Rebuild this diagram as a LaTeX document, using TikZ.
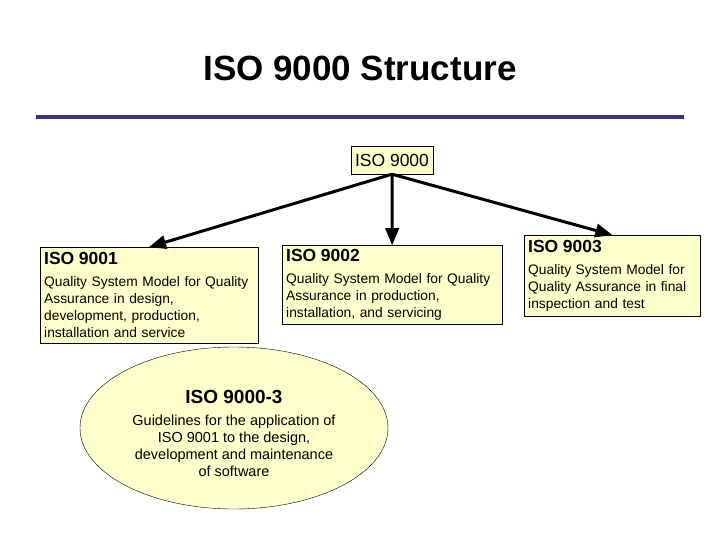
\documentclass[tikz,border=0pt]{standalone}
\usepackage{fontspec}
\setmainfont{Liberation Sans}
\usepackage{xcolor}
\usepackage{tikz}
\usetikzlibrary{shapes.geometric, arrows, positioning}
\definecolor{paleyellow}{HTML}{FFFFCC}
\definecolor{ruleblue}{HTML}{333388}
\tikzstyle{isobox}  = [rectangle, draw=black, fill=paleyellow, anchor=north west, align=left, inner sep=4pt, font=\fontsize{13.8}{17}\selectfont]
\tikzstyle{rootbox} = [rectangle, draw=black, fill=paleyellow, inner sep=4pt, minimum height=28pt, font=\fontsize{17.5}{19}\selectfont]
\tikzstyle{softell} = [ellipse, draw=black, fill=paleyellow, inner sep=0pt, minimum width=308pt, minimum height=162pt, align=center, font=\fontsize{14.5}{17}\selectfont]
\tikzstyle{arrow}   = [line width=3pt, ->, >=triangle 45]
\newcommand{\isohead}[1]{{\fontsize{17.5}{20}\selectfont\bfseries #1}\\[5pt]}

\begin{document}
\begin{tikzpicture}[x=1pt, y=-1pt]
    \useasboundingbox (0,0) rectangle (720,540);
    \node (title) at (360,68) {\fontsize{35}{40}\selectfont\bfseries ISO 9000 Structure};
    \draw [ruleblue, line width=4pt] (36,117) -- (684,117);

    \node (iso)   [rootbox] at (392,160) {ISO 9000};
    \node (iso1)  [isobox, text width=210pt, minimum height=96pt] at (40,247)
        {\isohead{ISO 9001}Quality System Model for Quality\\Assurance in design,\\development, production,\\installation and service};
    \node (iso2)  [isobox, text width=212pt, minimum height=79pt] at (282,245)
        {\isohead{ISO 9002}Quality System Model for Quality\\Assurance in production,\\installation, and servicing};
    \node (iso3)  [isobox, text width=168pt, minimum height=81pt] at (524,235)
        {\isohead{ISO 9003}Quality System Model for\\Quality Assurance in final\\inspection and test};
    \node (iso03) [softell] at (234,428)
        {\rule{0pt}{25pt}{\fontsize{19}{22}\selectfont\bfseries ISO 9000-3}\\[5pt]Guidelines for the application of\\ISO 9001 to the design,\\development and maintenance\\of software};

    \draw [arrow] (iso.south) -- (iso1.north);
    \draw [arrow] (iso.south) -- (iso2.north);
    \draw [arrow] (iso.south) -- (iso3.north);
\end{tikzpicture}
\end{document}
